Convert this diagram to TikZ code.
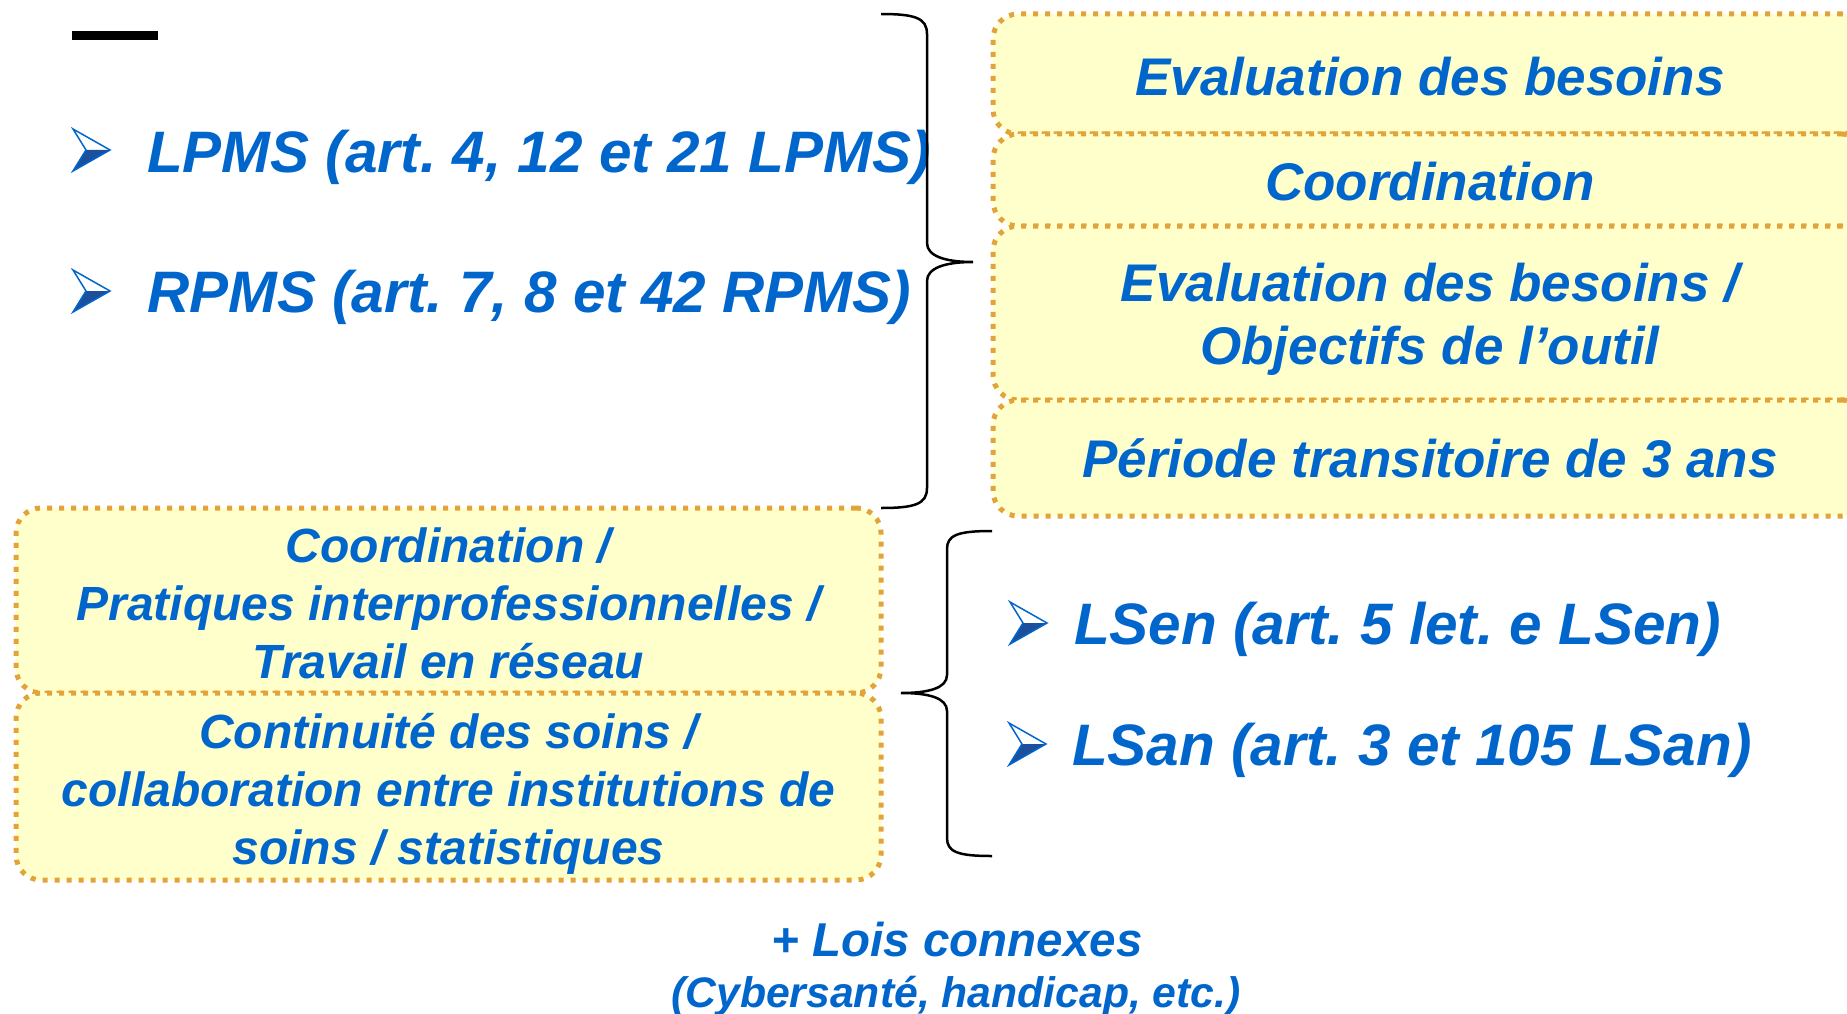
\documentclass[tikz,border=0pt]{standalone}
\usepackage{fontspec}
\setmainfont{Liberation Sans}
\usetikzlibrary{positioning}
\frenchspacing

\definecolor{bleutexte}{HTML}{0066CC}
\definecolor{bleupuce}{HTML}{1C4F9C}
\definecolor{jaune}{HTML}{FFFFCC}
\definecolor{orangebord}{HTML}{E2A43A}

% puce en forme de fleche, pointe en #1
\newcommand{\puce}[1]{%
	\begin{scope}[shift={(#1)}]
		\fill[bleupuce] (-24,0) -- (0,0) -- (-37,21) -- cycle;
		\draw[bleutexte, line width=1.5pt, line join=miter] (-37,-21) -- (0,0) -- (-37,21) -- (-24,0) -- cycle;
	\end{scope}}

\begin{document}
\begin{tikzpicture}[
	x=1pt,
	y=-1pt,
	node distance=0pt,
	boite/.style={
		draw=orangebord,
		fill=jaune,
		line width=5pt,
		dash pattern=on 5pt off 7pt,
		rounded corners=25pt,
		inner sep=0pt,
		outer sep=0pt,
		align=center,
		text=bleutexte
	},
	droite/.style={
		boite,
		minimum width=874pt,
		font=\fontsize{53}{63}\selectfont\bfseries\itshape
	},
	gauche/.style={
		boite,
		minimum width=865pt,
		font=\fontsize{48}{58}\selectfont\bfseries\itshape
	},
	loi/.style={
		anchor=base west,
		inner sep=0pt,
		text=bleutexte,
		font=\fontsize{58.5}{70}\selectfont\bfseries\itshape
	},
	accolade/.style={
		line width=2.5pt
	}
]
\useasboundingbox (0,0) rectangle (1847,1014);
\fill[white] (0,0) rectangle (1847,1014);
\clip (0,0) rectangle (1847,1014);

\fill (72,31) rectangle (158,40);

\node[loi] (LPMS) at (147,172) {LPMS (art. 4, 12 et 21 LPMS)};
\node[loi] (RPMS) at (147,312) {RPMS (art. 7, 8 et 42 RPMS)};
\puce{110,150}
\puce{110,291}

\node[droite, minimum height=120pt, anchor=north west] (BESOINS) at (993,14)
{\rule{0pt}{43pt}Evaluation des besoins};
\node[droite, minimum height=92pt] (COORD) [below=of BESOINS]
{\rule{0pt}{42pt}Coordination};
\node[droite, minimum height=174pt] (OBJ) [below=of COORD]
{\rule{0pt}{51pt}Evaluation des besoins /\\Objectifs de l’outil};
\node[droite, minimum height=116pt] (PERIODE) [below=of OBJ]
{Période transitoire de 3 ans};

\node[gauche, minimum height=185pt, anchor=north west] (PRAT) at (16,508)
{\rule{0pt}{41pt}Coordination /\\Pratiques interprofessionnelles /\\Travail en réseau};
\node[gauche, minimum height=187pt] (CONT) [below=of PRAT]
{\rule{0pt}{50pt}Continuité des soins /\\collaboration entre institutions de\\soins / statistiques};

\node[loi] (LSEN) at (1074,644) {LSen (art. 5 let. e LSen)};
\node[loi] (LSAN) at (1072,765) {LSan (art. 3 et 105 LSan)};
\puce{1047,623}
\puce{1046,744}

\node[anchor=base, inner sep=0pt, text=bleutexte,
	font=\fontsize{47.5}{57}\selectfont\bfseries\itshape] (LOIS) at (957,956)
{+ Lois connexes};
\node[anchor=base, inner sep=0pt, text=bleutexte,
	font=\fontsize{42.7}{51}\selectfont\bfseries\itshape] (CYBER) at (956,1007)
{(Cybersanté, handicap, etc.)};

% accolades
\draw[accolade] (881,14) .. controls (915,14) and (927,18) .. (927,34)
	-- (927,243) .. controls (927,256) and (945,262) .. (973,262)
	.. controls (945,262) and (927,268) .. (927,281)
	-- (927,488) .. controls (927,504) and (915,508) .. (881,508);
\draw[accolade] (992,531) .. controls (958,531) and (947,535) .. (947,549)
	-- (947,675) .. controls (947,688) and (929,693) .. (901,693)
	.. controls (929,693) and (947,698) .. (947,711)
	-- (947,838) .. controls (947,852) and (958,856) .. (992,856);

\end{tikzpicture}
\end{document}
